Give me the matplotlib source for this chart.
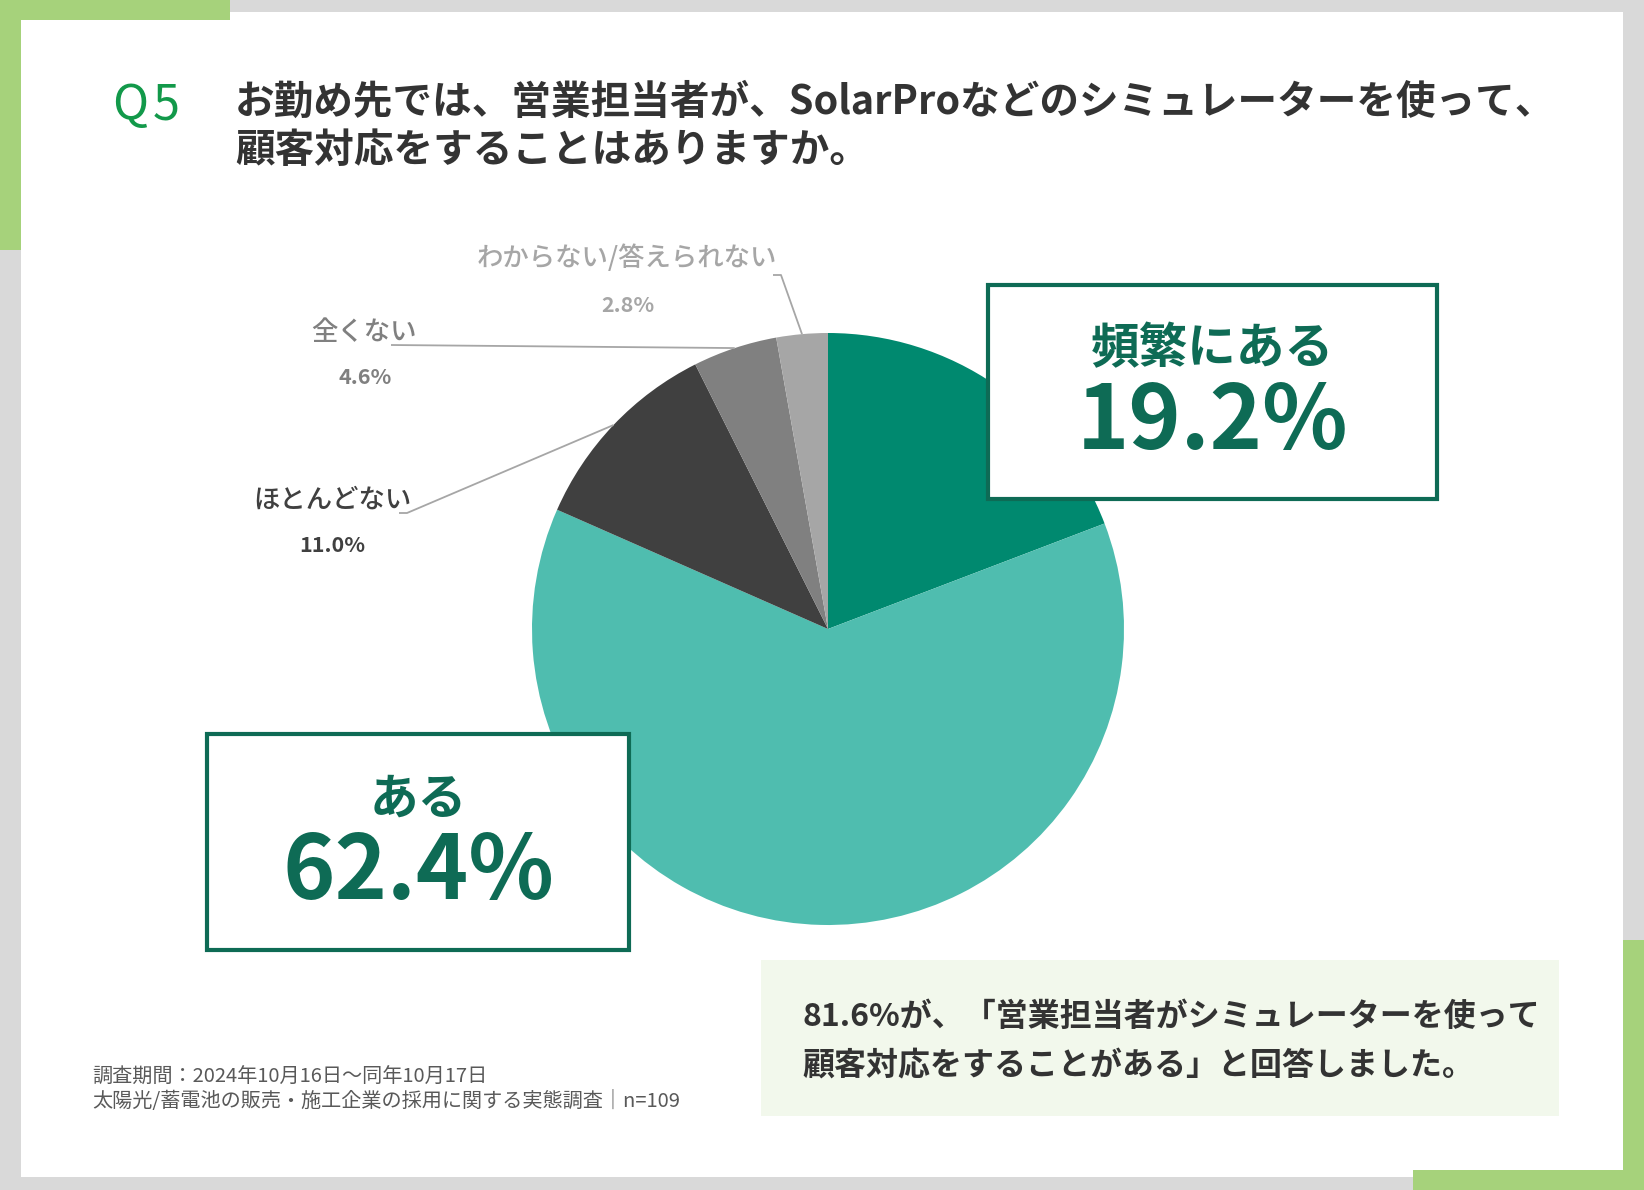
import matplotlib
matplotlib.use("Agg")
import matplotlib.pyplot as plt
from matplotlib.patches import Rectangle
import numpy as np

plt.rcParams['font.family'] = ['Noto Sans CJK JP', 'DejaVu Sans']

# ---- data ----
categories = ["頻繁にある", "ある", "ほとんどない", "全くない", "わからない/答えられない"]
values = [19.2, 62.4, 11.0, 4.6, 2.8]
value_labels = ["19.2%", "62.4%", "11.0%", "4.6%", "2.8%"]
slice_colors = ["#00896f", "#4fbdaf", "#404040", "#808080", "#a6a6a6"]
question_id = ["Q", "5"]
title_lines = ["お勤め先では、営業担当者が、SolarProなどのシミュレーターを使って、",
               "顧客対応をすることはありますか。"]
summary_lines = ["81.6%が、「営業担当者がシミュレーターを使って",
                 "顧客対応をすることがある」と回答しました。"]
footnote_lines = ["調査期間：2024年10月16日〜同年10月17日",
                  "太陽光/蓄電池の販売・施工企業の採用に関する実態調査｜n=109"]

W, H = 1644, 1190
def Y(y):
    return H - y

fig = plt.figure(figsize=(W / 100, H / 100), dpi=100)
fig.patch.set_facecolor("#d9d9d9")
ax = fig.add_axes([0, 0, 1, 1])

GREEN = "#a6d27b"
DARK = "#0e6b55"

# frame
ax.add_patch(Rectangle((21, Y(1177)), 1623 - 21, 1177 - 12, facecolor="white", edgecolor="none", zorder=0))
ax.add_patch(Rectangle((0, Y(20)), 230, 20, facecolor=GREEN, edgecolor="none", zorder=1))
ax.add_patch(Rectangle((0, Y(250)), 21, 250, facecolor=GREEN, edgecolor="none", zorder=1))
ax.add_patch(Rectangle((1623, Y(1190)), 21, 1190 - 940, facecolor=GREEN, edgecolor="none", zorder=1))
ax.add_patch(Rectangle((1413, Y(1190)), 1644 - 1413, 20, facecolor=GREEN, edgecolor="none", zorder=1))

# title
ax.text(112, Y(106), question_id[0], fontsize=35, color="#12994a", ha="left", va="center", zorder=5)
ax.text(153, Y(106), question_id[1], fontsize=35, color="#12994a", ha="left", va="center", zorder=5)
ax.text(235, Y(102), title_lines[0], fontsize=28.5, fontweight="bold", color="#333333",
        ha="left", va="center", zorder=5)
ax.text(235, Y(150), title_lines[1], fontsize=28.5, fontweight="bold", color="#333333",
        ha="left", va="center", zorder=5)

# pie
cx, cy, r = 828, Y(629), 296
wedges, _ = ax.pie(values, colors=slice_colors, startangle=90, counterclock=False,
                   center=(cx, cy), radius=r, wedgeprops=dict(linewidth=0, zorder=2))

# leader labels for small slices
label_specs = {
    4: dict(name_xy=(627, 258), pct_xy=(628, 305), color="#a6a6a6", path=[(773, 275), (781, 275)]),
    3: dict(name_xy=(364, 332), pct_xy=(365, 378), color="#808080", path=[(391, 345)]),
    2: dict(name_xy=(332, 500), pct_xy=(332, 545), color="#404040", path=[(399, 513), (407, 513)]),
}
for i, spec in label_specs.items():
    w = wedges[i]
    mid = np.deg2rad((w.theta1 + w.theta2) / 2)
    ex, ey = cx + r * np.cos(mid), cy + r * np.sin(mid)
    pts = [(px, Y(py)) for px, py in spec["path"]] + [(ex, ey)]
    xs, ys = zip(*pts)
    ax.plot(xs, ys, color="#a6a6a6", lw=1.3, zorder=3, solid_capstyle="butt")
    ax.text(spec["name_xy"][0], Y(spec["name_xy"][1]), categories[i], fontsize=19,
            fontweight="medium", color=spec["color"], ha="center", va="center", zorder=5)
    ax.text(spec["pct_xy"][0], Y(spec["pct_xy"][1]), value_labels[i], fontsize=15.5,
            fontweight="bold", color=spec["color"], ha="center", va="center", zorder=5)

# callout boxes for big slices
boxes = {
    0: dict(x0=988, y0=285, x1=1437, y1=499, name_y=349, pct_y=423),
    1: dict(x0=207, y0=734, x1=629, y1=950, name_y=799, pct_y=873),
}
for i, b in boxes.items():
    ax.add_patch(Rectangle((b["x0"], Y(b["y1"])), b["x1"] - b["x0"], b["y1"] - b["y0"],
                           facecolor="white", edgecolor=DARK, linewidth=3, zorder=4))
    xc = (b["x0"] + b["x1"]) / 2
    ax.text(xc, Y(b["name_y"]), categories[i], fontsize=35, fontweight="bold", color=DARK,
            ha="center", va="center", zorder=5)
    ax.text(xc, Y(b["pct_y"]), value_labels[i], fontsize=64, fontweight="bold", color=DARK,
            ha="center", va="center", zorder=5)

# summary box
ax.add_patch(Rectangle((761, Y(1116)), 1559 - 761, 1116 - 960, facecolor="#f2f8ec",
                       edgecolor="none", zorder=3))
ax.text(802, Y(1017), summary_lines[0], fontsize=23, fontweight="bold", color="#333333",
        ha="left", va="center", zorder=5)
ax.text(802, Y(1066), summary_lines[1], fontsize=23, fontweight="bold", color="#333333",
        ha="left", va="center", zorder=5)

# footnote
ax.text(92, Y(1077), footnote_lines[0], fontsize=14.5, color="#595959", ha="left", va="center", zorder=5)
ax.text(92, Y(1102), footnote_lines[1], fontsize=14.5, color="#595959", ha="left", va="center", zorder=5)

ax.set_xlim(0, W)
ax.set_ylim(0, H)
ax.set_aspect("auto")
ax.axis("off")

fig.savefig("out.png", dpi=100, facecolor=fig.get_facecolor())
